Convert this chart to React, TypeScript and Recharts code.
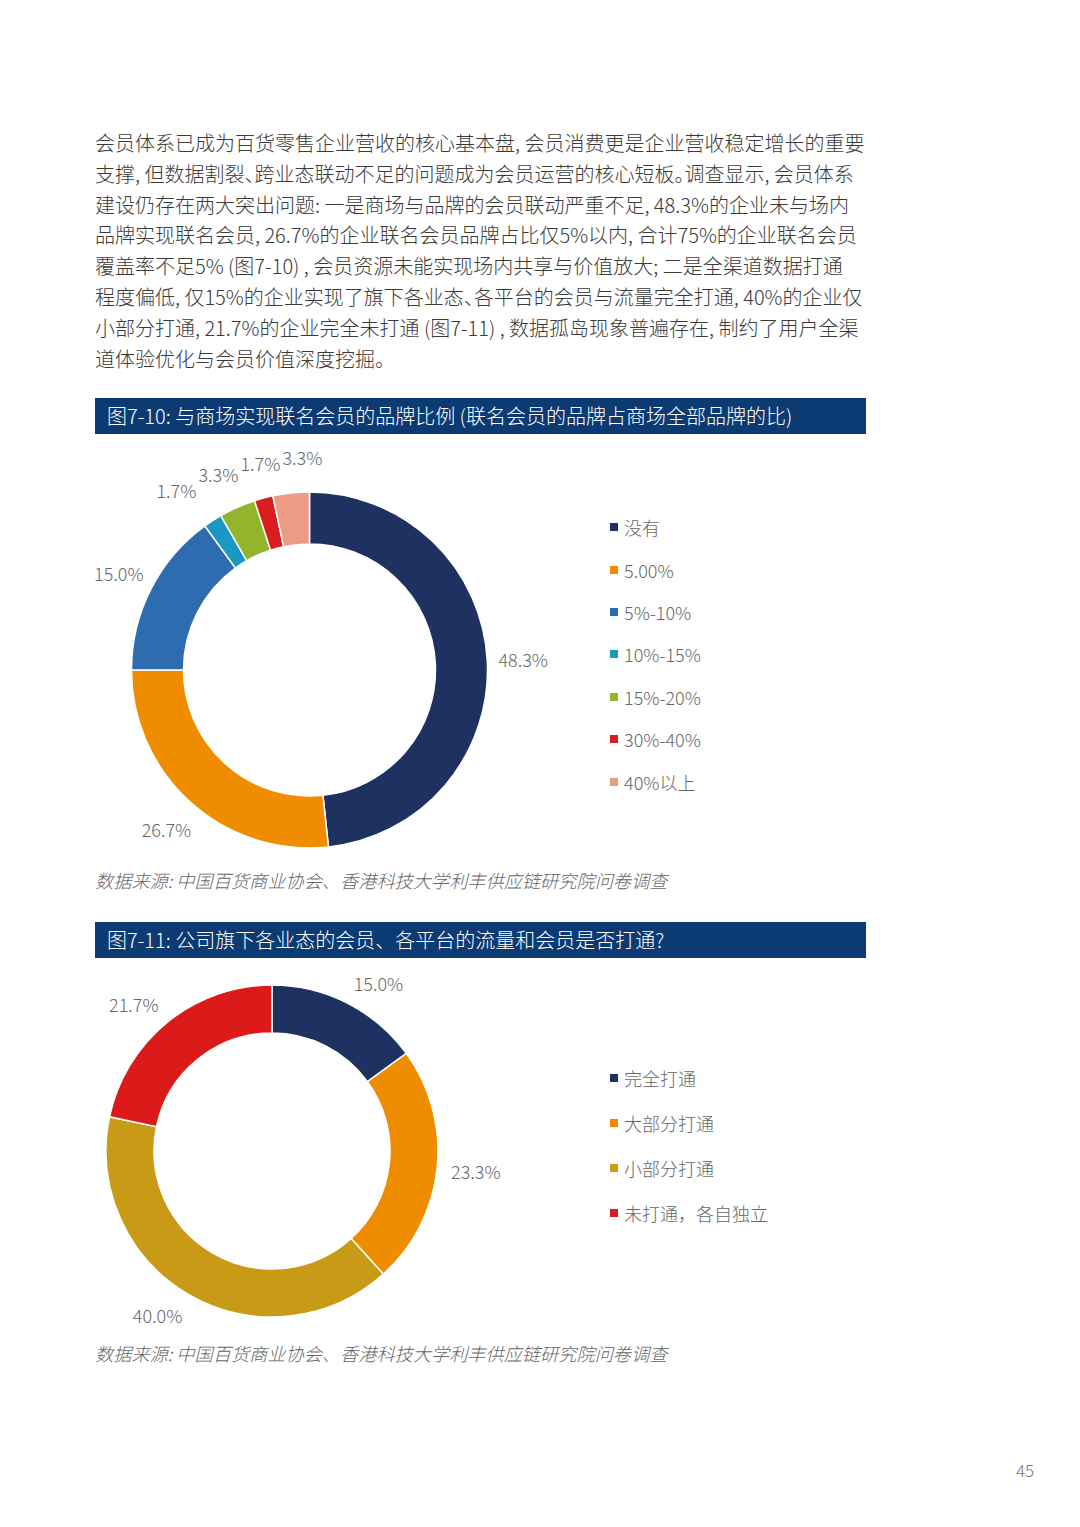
import React from "react"
import { PieChart, Pie, Cell, Legend } from "recharts"

// 图7-10 data
const brandNames = ["没有", "5.00%", "5%-10%", "10%-15%", "15%-20%", "30%-40%", "40%以上"]
const brandValues = [48.3, 26.7, 15.0, 1.7, 3.3, 1.7, 3.3]
const brandColors = ["#1f3161", "#ef8c00", "#2d6cae", "#1898c2", "#93b52b", "#db1d1f", "#eb9c86"]

// 图7-11 data
const linkNames = ["完全打通", "大部分打通", "小部分打通", "未打通，各自独立"]
const linkValues = [15.0, 23.3, 40.0, 21.7]
const linkColors = ["#1f3161", "#ef8c00", "#c99a16", "#dc1a1a"]

const paragraph = [
  "会员体系已成为百货零售企业营收的核心基本盘, 会员消费更是企业营收稳定增长的重要",
  "支撑, 但数据割裂、跨业态联动不足的问题成为会员运营的核心短板。调查显示, 会员体系",
  "建设仍存在两大突出问题: 一是商场与品牌的会员联动严重不足, 48.3%的企业未与场内",
  "品牌实现联名会员, 26.7%的企业联名会员品牌占比仅5%以内, 合计75%的企业联名会员",
  "覆盖率不足5% (图7-10) , 会员资源未能实现场内共享与价值放大; 二是全渠道数据打通",
  "程度偏低, 仅15%的企业实现了旗下各业态、各平台的会员与流量完全打通, 40%的企业仅",
  "小部分打通, 21.7%的企业完全未打通 (图7-11) , 数据孤岛现象普遍存在, 制约了用户全渠",
  "道体验优化与会员价值深度挖掘。",
]

const title1 = "图7-10: 与商场实现联名会员的品牌比例 (联名会员的品牌占商场全部品牌的比)"
const title2 = "图7-11: 公司旗下各业态的会员、各平台的流量和会员是否打通?"
const source = "数据来源: 中国百货商业协会、香港科技大学利丰供应链研究院问卷调查"

const FONT = "'Noto Sans CJK SC', 'Noto Sans', sans-serif"
const RAD = Math.PI / 180

const brandData = brandNames.map((name, i) => ({ name, value: brandValues[i] }))
const linkData = linkNames.map((name, i) => ({ name, value: linkValues[i] }))

const fmt = (v: number) => `${v.toFixed(1)}%`

// push crowded labels apart sideways so small slices stay readable
function labelShifts(values: number[], r: number) {
  const total = values.reduce((a, b) => a + b, 0)
  let cum = 0
  const pts = values.map((v) => {
    const mid = 90 - (360 * (cum + v / 2)) / total
    cum += v
    return { x: r * Math.cos(mid * RAD), y: -r * Math.sin(mid * RAD), w: fmt(v).length * 9.5 + 4 }
  })
  const shifts = values.map(() => 0)
  for (let it = 0; it < 80; it++) {
    for (let i = 0; i < pts.length; i++) {
      for (let j = i + 1; j < pts.length; j++) {
        const ax = pts[i].x + shifts[i]
        const bx = pts[j].x + shifts[j]
        const need = (pts[i].w + pts[j].w) / 2
        if (Math.abs(pts[i].y - pts[j].y) < 20 && Math.abs(ax - bx) < need) {
          const push = (need - Math.abs(ax - bx)) / 2
          const dir = ax < bx ? -1 : 1
          shifts[i] += dir * push
          shifts[j] -= dir * push
        }
      }
    }
  }
  return shifts
}

// anchored: text hugs the ring (start/end anchor), otherwise centred on the radius
function makeLabel(radius: number, shifts: number[], anchored: boolean) {
  return (props: any) => {
    const { cx, cy, midAngle, value, index } = props
    const c = Math.cos(-midAngle * RAD)
    const s = Math.sin(-midAngle * RAD)
    let x = cx + radius * c + (shifts[index] || 0)
    let y = cy + radius * s
    let anchor = "middle"
    if (anchored) {
      anchor = c > 0.05 ? "start" : c < -0.05 ? "end" : "middle"
      y += s * 9
    }
    return (
      <text x={x} y={y} textAnchor={anchor} dominantBaseline="central" fill="#666" fontSize={18} fontWeight={300} fontFamily={FONT}>
        {fmt(value)}
      </text>
    )
  }
}

function makeLegend(names: string[], colors: string[], rowH: number) {
  return () => (
    <div style={{ fontFamily: FONT }}>
      {names.map((n, i) => (
        <div key={i} style={{ height: rowH, display: "flex", alignItems: "center", color: "#666", fontSize: 18, fontWeight: 300, whiteSpace: "nowrap" }}>
          <span style={{ width: 8, height: 8, background: colors[i], marginRight: 6, display: "inline-block" }} />
          {n}
        </div>
      ))}
    </div>
  )
}

function TitleBar({ top, text }: { top: number; text: string }) {
  return (
    <div style={{ position: "absolute", left: 95, top, width: 771, height: 36, background: "#0c3a72", color: "#fff", fontSize: 20, fontWeight: 300, lineHeight: "36px", paddingLeft: 12, boxSizing: "border-box", whiteSpace: "nowrap" }}>
      {text}
    </div>
  )
}

function Source({ top }: { top: number }) {
  return (
    <div style={{ position: "absolute", left: 95, top, fontSize: 18.2, fontStyle: "italic", color: "#666", fontWeight: 300, whiteSpace: "nowrap" }}>
      {source}
    </div>
  )
}

const noMargin = { top: 0, right: 0, bottom: 0, left: 0 }

export default function App() {
  return (
    <div style={{ position: "absolute", left: 0, top: 0, width: 1080, height: 1527, background: "#fff", fontFamily: FONT, overflow: "hidden" }}>
      <div style={{ position: "absolute", left: 95, top: 128, color: "#3a3a3a", fontSize: 20, fontWeight: 300, lineHeight: "30.8px", fontFeatureSettings: '"halt"' }}>
        {paragraph.map((line, i) => (
          <div key={i} style={{ whiteSpace: "nowrap" }}>{line}</div>
        ))}
      </div>

      <TitleBar top={398} text={title1} />

      <div style={{ position: "absolute", left: 90, top: 440 }}>
        <PieChart width={776} height={420} margin={noMargin}>
          <Pie
            data={brandData}
            dataKey="value"
            nameKey="name"
            cx={219.5}
            cy={230}
            innerRadius={126}
            outerRadius={178}
            startAngle={90}
            endAngle={-270}
            stroke="#fff"
            strokeWidth={1.5}
            label={makeLabel(214, labelShifts(brandValues, 214), false)}
            labelLine={false}
            isAnimationActive={false}
          >
            {brandData.map((_, i) => (
              <Cell key={i} fill={brandColors[i]} />
            ))}
          </Pie>
          <Legend content={makeLegend(brandNames, brandColors, 42.4)} wrapperStyle={{ left: 520, top: 66, width: 200 }} />
        </PieChart>
      </div>

      <Source top={867} />

      <TitleBar top={922} text={title2} />

      <div style={{ position: "absolute", left: 90, top: 958 }}>
        <PieChart width={776} height={395} margin={noMargin}>
          <Pie
            data={linkData}
            dataKey="value"
            nameKey="name"
            cx={182}
            cy={193}
            innerRadius={118}
            outerRadius={166}
            startAngle={90}
            endAngle={-270}
            stroke="#fff"
            strokeWidth={1.5}
            label={makeLabel(180, [], true)}
            labelLine={false}
            isAnimationActive={false}
          >
            {linkData.map((_, i) => (
              <Cell key={i} fill={linkColors[i]} />
            ))}
          </Pie>
          <Legend content={makeLegend(linkNames, linkColors, 45)} wrapperStyle={{ left: 520, top: 97.5, width: 240 }} />
        </PieChart>
      </div>

      <Source top={1340} />

      <div style={{ position: "absolute", left: 1016, top: 1457, fontSize: 17, color: "#777", fontWeight: 300 }}>45</div>
    </div>
  )
}
